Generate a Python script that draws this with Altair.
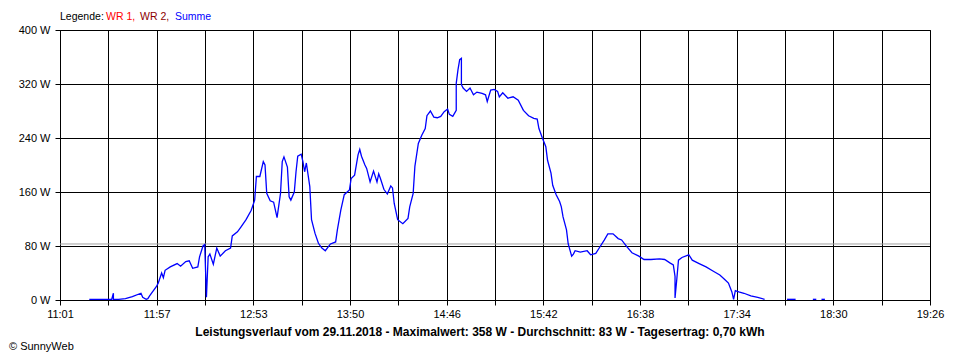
import json
import altair as alt
import pandas as pd

# ---------------- data ----------------
TIMES = [
    "11:18", "11:28", "11:31", "11:32", "11:32", "11:35", "11:39", "11:43", "11:48", "11:49",
    "11:51", "11:52", "11:53", "11:57", "11:58", "12:00", "12:01", "12:02", "12:05", "12:09",
    "12:11", "12:14", "12:16", "12:18", "12:21", "12:22", "12:24", "12:25", "12:26", "12:27",
    "12:28", "12:30", "12:32", "12:34", "12:37", "12:40", "12:41", "12:44", "12:46", "12:49",
    "12:52", "12:54", "12:55", "12:57", "12:59", "13:00", "13:01", "13:03", "13:05", "13:07",
    "13:09", "13:10", "13:11", "13:13", "13:14", "13:15", "13:17", "13:18", "13:19", "13:21",
    "13:22", "13:23", "13:24", "13:26", "13:27", "13:29", "13:31", "13:33", "13:35", "13:38",
    "13:41", "13:42", "13:44", "13:46", "13:49", "13:50", "13:52", "13:54", "13:55", "13:56",
    "13:58", "13:59", "14:01", "14:03", "14:05", "14:06", "14:07", "14:09", "14:11", "14:13",
    "14:14", "14:15", "14:17", "14:20", "14:23", "14:24", "14:26", "14:27", "14:29", "14:31",
    "14:33", "14:34", "14:36", "14:38", "14:40", "14:42", "14:44", "14:46", "14:47", "14:49",
    "14:51", "14:51", "14:52", "14:53", "14:54", "14:54", "14:55", "14:57", "14:59", "15:01",
    "15:03", "15:06", "15:08", "15:09", "15:11", "15:13", "15:15", "15:16", "15:18", "15:21",
    "15:24", "15:27", "15:30", "15:33", "15:36", "15:38", "15:39", "15:41", "15:43", "15:44",
    "15:46", "15:47", "15:49", "15:51", "15:52", "15:53", "15:55", "15:56", "15:58", "15:59",
    "16:00", "16:03", "16:07", "16:09", "16:12", "16:14", "16:17", "16:19", "16:22", "16:25",
    "16:27", "16:30", "16:33", "16:37", "16:40", "16:44", "16:49", "16:52", "16:55", "16:57",
    "16:58", "16:58", "16:59", "17:00", "17:02", "17:06", "17:08", "17:12", "17:16", "17:20",
    "17:24", "17:27", "17:29", "17:31", "17:32", "17:33", "17:35", "17:38", "17:42", "17:46",
    "17:50", "18:03", "18:08", "18:18", "18:20", "18:23", "18:25",
]
WATTS = [
    1, 1, 1, 10, 1, 1, 2, 5, 10, 4,
    1, 2, 6, 20, 25, 40, 33, 44, 49, 54,
    50, 57, 58, 47, 49, 64, 80, 82, 4, 64,
    68, 53, 77, 65, 73, 77, 95, 101, 108, 119,
    133, 148, 183, 183, 205, 200, 158, 147, 145, 122,
    158, 205, 212, 197, 153, 148, 160, 190, 213, 216,
    205, 190, 203, 168, 119, 99, 84, 77, 73, 83,
    86, 104, 133, 156, 163, 180, 185, 215, 223, 213,
    200, 195, 175, 191, 175, 187, 180, 164, 157, 169,
    166, 143, 119, 113, 121, 138, 158, 198, 232, 244,
    254, 273, 280, 271, 270, 272, 279, 283, 275, 272,
    281, 321, 341, 356, 358, 319, 314, 309, 314, 304,
    308, 306, 304, 294, 311, 312, 309, 301, 307, 299,
    301, 296, 281, 273, 269, 268, 254, 240, 227, 207,
    188, 170, 156, 146, 138, 123, 104, 83, 65, 68,
    73, 71, 73, 67, 69, 77, 89, 98, 98, 91,
    89, 79, 70, 65, 60, 60, 61, 60, 55, 52,
    35, 3, 30, 59, 63, 67, 59, 54, 49, 43,
    37, 30, 25, 12, 1, 14, 12, 10, 6, 4,
    1, 1, 1, 1, 1, 1, 1,
]
SEGMENT_STARTS = ["18:03", "18:18", "18:23"]   # the line is broken before these

X_START, X_END = "11:01", "19:26"
X_TICK_LABELS = ["11:01", "11:57", "12:53", "13:50", "14:46",
                 "15:42", "16:38", "17:34", "18:30", "19:26"]
Y_TICKS = [0, 80, 160, 240, 320, 400]
AVERAGE_W = 83

TITLE = ("Leistungsverlauf vom 29.11.2018 - Maximalwert: 358 W - "
         "Durchschnitt: 83 W - Tagesertrag: 0,70 kWh")
LEGEND_PARTS = ["Legende:", "WR 1,", "WR 2,", "Summe"]
LEGEND_COLORS = ["#000000", "#FF0000", "#8C0000", "#0000FF"]
COPYRIGHT = "\u00a9 SunnyWeb"

FONT = "Liberation Sans"


def to_min(s):
    h, m = s.split(":")
    return int(h) * 60 + int(m)


seg, segs = 0, []
for t in TIMES:
    if t in SEGMENT_STARTS:
        seg += 1
    segs.append(seg)

df = pd.DataFrame({
    "m": [to_min(t) for t in TIMES],
    "w": WATTS,
    "seg": segs,
    "i": list(range(len(TIMES))),
})

x0, x1 = to_min(X_START), to_min(X_END)
n_grid = 2 * (len(X_TICK_LABELS) - 1)
step = (x1 - x0) / n_grid
x_vals = [x0 + k * step for k in range(n_grid + 1)]
label_list = [X_TICK_LABELS[k // 2] if k % 2 == 0 else "" for k in range(n_grid + 1)]
x_label_expr = f"{json.dumps(label_list)}[round((datum.value - {x0}) / {step})]"

W, H = 870, 270

x_enc = alt.X(
    "m:Q",
    scale=alt.Scale(domain=[x0, x1], nice=False, zero=False),
    axis=alt.Axis(values=x_vals, labelExpr=x_label_expr, title=None,
                  tickSize=5, labelPadding=3, labelFlush=False, labelOverlap=False),
)
y_enc = alt.Y(
    "w:Q",
    scale=alt.Scale(domain=[0, 400], nice=False),
    axis=alt.Axis(values=Y_TICKS, labelExpr="datum.value + ' W'", title=None,
                  tickSize=5, labelPadding=5),
)

line = alt.Chart(df).mark_line(color="#0000FF", strokeWidth=1.3).encode(
    x=x_enc, y=y_enc, detail="seg:N", order="i:Q"
)

avg = alt.Chart(pd.DataFrame({"w": [AVERAGE_W]})).mark_rule(
    color="#A0A0A0", strokeWidth=1
).encode(y=alt.Y("w:Q"))

# legend (coloured words) above the plot
legend_x = [0, 46, 80, 115]
legend_layers = []
for txt, col, lx in zip(LEGEND_PARTS, LEGEND_COLORS, legend_x):
    legend_layers.append(
        alt.Chart(pd.DataFrame({"t": [txt]})).mark_text(
            align="left", baseline="middle", font=FONT, fontSize=10.5, color=col
        ).encode(text="t:N", x=alt.value(lx), y=alt.value(-13))
    )

title_txt = alt.Chart(pd.DataFrame({"t": [TITLE]})).mark_text(
    align="center", baseline="middle", font=FONT, fontSize=12,
    fontWeight="bold", color="#000000"
).encode(text="t:N", x=alt.value(420), y=alt.value(302))

copy_txt = alt.Chart(pd.DataFrame({"t": [COPYRIGHT]})).mark_text(
    align="left", baseline="middle", font=FONT, fontSize=11, color="#000000"
).encode(text="t:N", x=alt.value(-51), y=alt.value(317))

chart = alt.layer(avg, line, *legend_layers, title_txt, copy_txt).properties(
    width=W,
    height=H,
    autosize=alt.AutoSizeParams(type="none"),
    padding={"left": 52, "top": 22, "right": 22, "bottom": 52},
    background="#FFFFFF",
).configure_view(
    stroke="#000000", strokeWidth=1
).configure_axis(
    grid=True, gridColor="#000000", gridOpacity=1, gridWidth=1,
    domainColor="#000000", domainWidth=1, tickColor="#000000", tickWidth=1,
    labelFont=FONT, labelFontSize=11, labelColor="#000000",
)

chart.save("out.html", embed_options={"renderer": "svg", "actions": False})
